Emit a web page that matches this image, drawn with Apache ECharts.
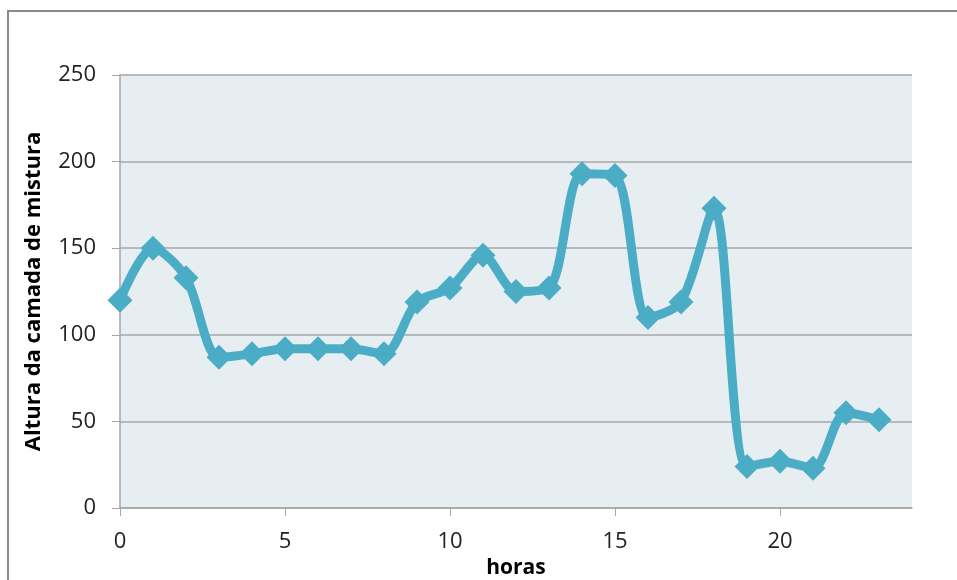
<!DOCTYPE html>
<html>
<head>
<meta charset="utf-8">
<script src="https://cdn.jsdelivr.net/npm/echarts@6/dist/echarts.min.js"></script>
<style>html,body{margin:0;padding:0;background:#fff}#c{width:957px;height:580px}</style>
</head>
<body>
<div id="c"></div>
<script>
var hours = [0,1,2,3,4,5,6,7,8,9,10,11,12,13,14,15,16,17,18,19,20,21,22,23];
var alturas = [120,150,133,87,89,92,92,92,89,119,127,146,125,127,193,192,110,119,173,24,27,23,55,51];
var xTicks = [0,5,10,15,20];
var yTicks = [0,50,100,150,200,250];
var xTitle = 'horas';
var yTitle = 'Altura da camada de mistura';

var chart = echarts.init(document.getElementById('c'), null, {renderer:'canvas'});
var font = '"Open Sans", sans-serif';
chart.setOption({
  animation: false,
  backgroundColor: '#ffffff',
  graphic: [{
    type: 'rect', silent: true,
    shape: {x: 8, y: 11, width: 1000, height: 620},
    style: {fill: 'none', stroke: '#8a8a8a', lineWidth: 2}
  }],
  grid: {left: 120, top: 75, right: 45, bottom: 72, show: true, backgroundColor: '#E7EEF2', borderWidth: 0,
         outerBoundsMode: 'none', containLabel: false},
  xAxis: {
    type: 'value', min: 0, max: 24, interval: 5,
    name: xTitle, nameLocation: 'middle', nameGap: 50,
    nameTextStyle: {fontFamily: font, fontWeight: 'bold', fontSize: 21, color: '#000'},
    axisLine: {show: true, lineStyle: {color: '#A6A6A6', width: 1.5}},
    axisTick: {show: true, length: 8, customValues: xTicks, lineStyle: {color: '#A6A6A6'}},
    axisLabel: {customValues: xTicks, fontFamily: font, fontSize: 22, color: '#222', margin: 23},
    splitLine: {show: false}
  },
  yAxis: {
    type: 'value', min: 0, max: 250, interval: 50,
    name: yTitle, nameLocation: 'middle', nameGap: 75, nameRotate: 90,
    nameTextStyle: {fontFamily: font, fontWeight: 'bold', fontSize: 22, color: '#000'},
    axisLine: {show: true, lineStyle: {color: '#A6A6A6', width: 1.5}},
    axisTick: {show: true, length: 8, lineStyle: {color: '#A6A6A6'}},
    axisLabel: {fontFamily: font, fontSize: 22, color: '#222', margin: 24},
    splitLine: {show: true, lineStyle: {color: '#A6A6A6', width: 1.5}}
  },
  series: [{
    type: 'line',
    data: hours.map(function(h, i){ return [h, alturas[i]]; }),
    smooth: 0.3,
    symbol: 'diamond', symbolSize: 25,
    lineStyle: {color: '#4BACC6', width: 9},
    itemStyle: {color: '#4BACC6'}
  }]
});
</script>
</body>
</html>
